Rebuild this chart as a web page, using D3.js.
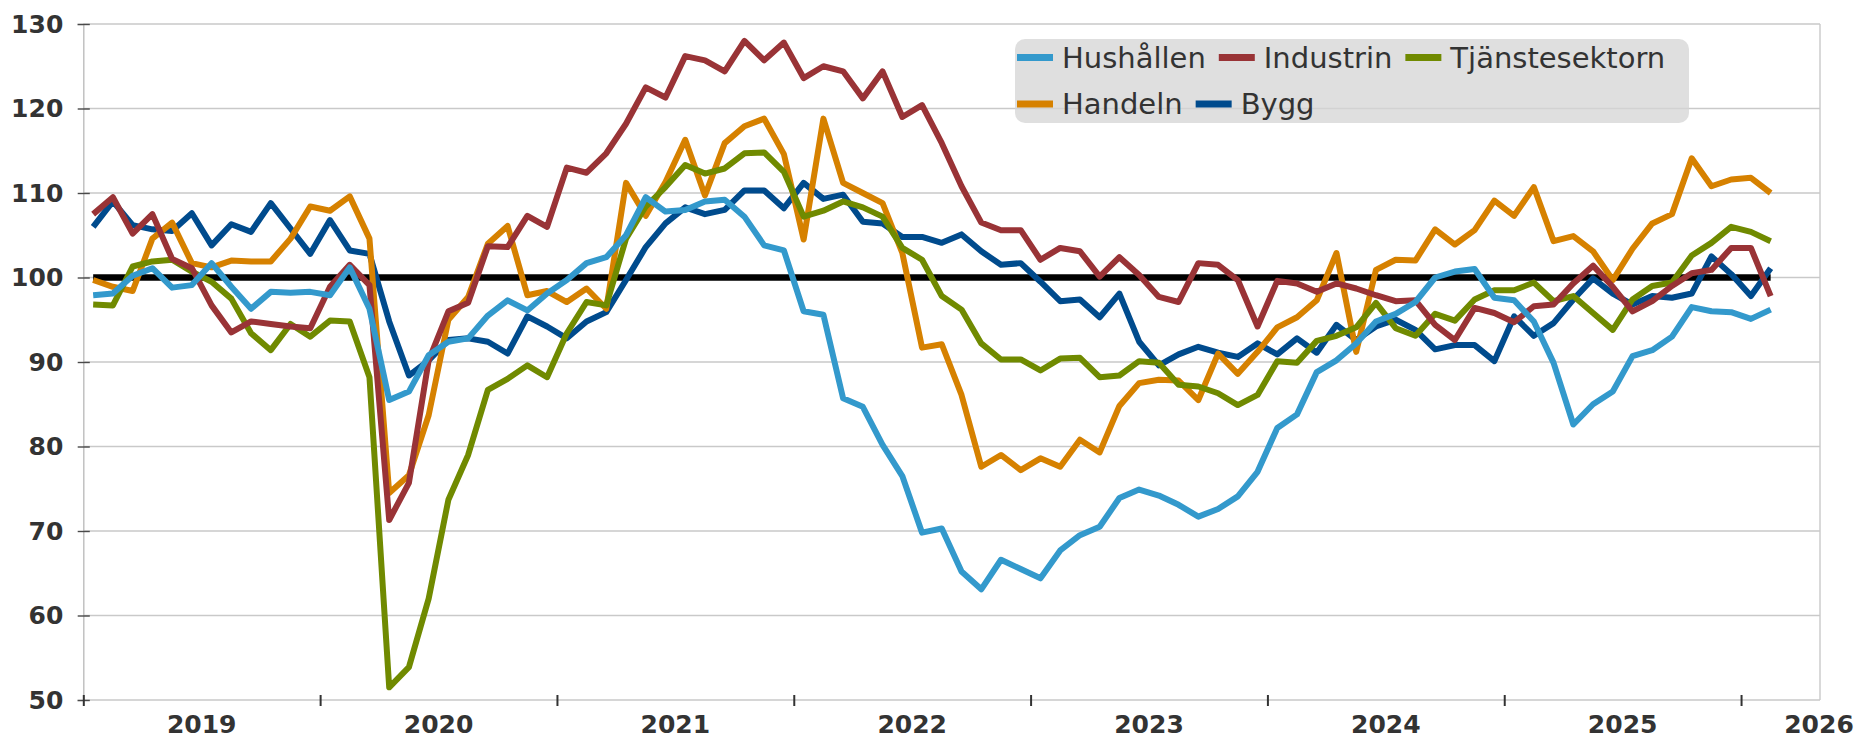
<!DOCTYPE html>
<html lang="sv">
<head>
<meta charset="utf-8">
<title>Konfidensindikatorer per sektor</title>
<script src="https://cdn.jsdelivr.net/npm/d3@7/dist/d3.min.js"></script>
<style>
  html, body { margin: 0; padding: 0; background: #ffffff; }
  svg { display: block; }
</style>
</head>
<body>
<svg id="chart"></svg>
<script>
// Månadsvärden, jan 2019 -> feb 2026 (index 0 = jan 2019)
const hushallen = [
  97.9, 98.1, 100.2, 101.1, 98.8, 99.1, 101.7, 98.9, 96.3, 98.3, 98.2, 98.3,
  97.9, 101.2, 96.3, 85.5, 86.5, 90.8, 92.4, 92.8, 95.5, 97.3, 96.1, 98.1,
  99.7, 101.7, 102.4, 105.0, 109.5, 107.8, 108.0, 109.0, 109.2, 107.2, 103.8, 103.2,
  96.0, 95.6, 85.7, 84.7, 80.2, 76.5, 69.8, 70.3, 65.2, 63.1, 66.6, 65.5,
  64.4, 67.7, 69.5, 70.5, 73.9, 74.9, 74.2, 73.1, 71.7, 72.6, 74.1, 77.0,
  82.2, 83.8, 88.8, 90.2, 92.2, 94.8, 95.7, 97.1, 100.0, 100.7, 101.0, 97.6,
  97.3, 94.8, 89.9, 82.6, 85.0, 86.5, 90.7, 91.4, 93.0, 96.5, 96.0, 95.9,
  95.1, 96.2
];
const industrin = [
  107.5, 109.5, 105.2, 107.5, 102.2, 101.1, 96.7, 93.5, 94.8, 94.5, 94.2, 94.0,
  98.9, 101.5, 99.1, 71.3, 75.7, 90.2, 96.0, 97.0, 103.7, 103.6, 107.3, 106.0,
  113.0, 112.4, 114.7, 118.2, 122.5, 121.3, 126.2, 125.7, 124.4, 128.0, 125.7, 127.8,
  123.6, 125.0, 124.4, 121.2, 124.4, 119.0, 120.4, 115.9, 110.8, 106.5, 105.6, 105.6,
  102.1, 103.5, 103.1, 100.1, 102.4, 100.3, 97.7, 97.1, 101.7, 101.5, 99.7, 94.2,
  99.6, 99.3, 98.3, 99.3, 98.7, 97.9, 97.2, 97.3, 94.4, 92.6, 96.4, 95.8,
  94.7, 96.6, 96.8, 99.3, 101.4, 98.9, 96.0, 97.2, 99.0, 100.5, 100.9, 103.5,
  103.5, 97.8
];
const tjanstesektorn = [
  96.8, 96.7, 101.3, 101.9, 102.1, 100.7, 99.5, 97.5, 93.4, 91.4, 94.5, 93.0,
  94.9, 94.8, 88.2, 51.5, 53.9, 62.0, 73.7, 79.0, 86.7, 88.0, 89.6, 88.2,
  93.4, 97.1, 96.7, 104.6, 108.4, 110.7, 113.3, 112.3, 112.9, 114.7, 114.8, 112.5,
  107.2, 107.9, 109.0, 108.3, 107.2, 103.5, 102.1, 97.8, 96.2, 92.2, 90.3, 90.3,
  89.0, 90.4, 90.5, 88.2, 88.4, 90.1, 89.9, 87.3, 87.1, 86.3, 84.9, 86.1,
  90.1, 89.9, 92.5, 93.1, 94.1, 97.0, 94.0, 93.1, 95.7, 94.9, 97.4, 98.5,
  98.5, 99.4, 97.2, 97.8, 95.8, 93.8, 97.4, 99.0, 99.4, 102.6, 104.1, 106.0,
  105.4, 104.3
];
const handeln = [
  99.7, 98.9, 98.4, 104.6, 106.5, 101.7, 101.2, 102.0, 101.9, 101.9, 104.6, 108.4,
  107.9, 109.6, 104.6, 74.5, 76.6, 83.7, 95.0, 97.7, 104.0, 106.1, 97.9, 98.4,
  97.1, 98.7, 96.3, 111.2, 107.3, 111.3, 116.3, 109.7, 115.9, 117.9, 118.8, 114.6,
  104.5, 118.8, 111.2, 110.0, 108.8, 102.9, 91.7, 92.1, 86.1, 77.6, 79.0, 77.2,
  78.6, 77.6, 80.8, 79.3, 84.8, 87.5, 87.9, 87.8, 85.5, 91.0, 88.6, 91.2,
  94.1, 95.3, 97.3, 102.9, 91.2, 100.9, 102.1, 102.0, 105.7, 103.9, 105.6, 109.1,
  107.3, 110.7, 104.3, 104.9, 103.1, 99.7, 103.4, 106.4, 107.5, 114.1, 110.8, 111.6,
  111.8, 110.0
];
const bygg = [
  106.0, 109.0, 106.2, 105.7, 105.5, 107.6, 103.8, 106.3, 105.4, 108.8, 105.8, 102.8,
  106.8, 103.2, 102.8, 94.8, 88.4, 90.2, 92.6, 92.8, 92.4, 91.0, 95.4, 94.2,
  92.8, 94.8, 95.9, 99.7, 103.6, 106.4, 108.3, 107.5, 108.0, 110.3, 110.3, 108.2,
  111.2, 109.3, 109.8, 106.6, 106.4, 104.8, 104.8, 104.1, 105.1, 103.1, 101.5, 101.7,
  99.5, 97.2, 97.4, 95.3, 98.1, 92.4, 89.6, 90.9, 91.8, 91.1, 90.6, 92.2,
  90.9, 92.8, 91.1, 94.4, 92.6, 94.2, 95.0, 93.8, 91.5, 92.0, 92.0, 90.1,
  95.4, 93.1, 94.6, 97.4, 99.9, 98.1, 96.8, 97.8, 97.6, 98.1, 102.5, 100.4,
  97.8, 101.1
];

const years = [2019, 2020, 2021, 2022, 2023, 2024, 2025, 2026];
const yTicks = [50, 60, 70, 80, 90, 100, 110, 120, 130];
const normal = 100; // svart linje = historiskt genomsnitt

const width = 1860;
const height = 739;
const x1 = 83.3, x2 = 1820;   // plotytan
const yTop = 24, yBottom = 700;
const nbMonths = 88;           // axeln går till april 2026

const fontAxis = "'DejaVu Sans', sans-serif";
const textColor = "#333333";

// Ordningen här = ritordning (Hushållen överst)
const series = [
  { name: "Bygg", color: "#004b8d", values: bygg },
  { name: "Handeln", color: "#d68100", values: handeln },
  { name: "Tjänstesektorn", color: "#708a00", values: tjanstesektorn },
  { name: "Industrin", color: "#993336", values: industrin },
  { name: "Hushållen", color: "#3399cc", values: hushallen }
];
const legendRows = [
  ["Hushållen", "Industrin", "Tjänstesektorn"],
  ["Handeln", "Bygg"]
];

const svg = d3.select("#chart")
  .attr("width", width)
  .attr("height", height);

const x = d3.scaleLinear().domain([0, nbMonths]).range([x1, x2]);
const y = d3.scaleLinear().domain([50, 130]).range([yBottom, yTop]);

// Stödlinjer
svg.append("g")
  .selectAll("line")
  .data(yTicks)
  .join("line")
    .attr("x1", x1)
    .attr("x2", x2)
    .attr("y1", d => y(d))
    .attr("y2", d => y(d))
    .attr("stroke", "#c9c9c9")
    .attr("stroke-width", 1.4);

// Ram till höger
svg.append("line")
  .attr("x1", x2).attr("x2", x2)
  .attr("y1", y(130)).attr("y2", y(50))
  .attr("stroke", "#c9c9c9")
  .attr("stroke-width", 1.4);

// Y-axel
const yAxis = svg.append("g")
  .attr("transform", `translate(${x1},0)`)
  .call(d3.axisLeft(y).tickValues(yTicks).tickSize(6).tickPadding(14));
yAxis.select(".domain").attr("stroke", "#bdbdbd").attr("stroke-width", 1.4);
yAxis.selectAll(".tick line")
  .attr("x1", 6.5)
  .attr("x2", -5.6)
  .attr("stroke", "#4a4a4a")
  .attr("stroke-width", 1.4);
yAxis.selectAll(".tick text")
  .attr("fill", textColor)
  .style("font-family", fontAxis)
  .style("font-weight", "bold")
  .style("font-size", "25px");

// X-axel: streck vid årsskiftena
const xAxis = svg.append("g")
  .attr("transform", `translate(0,${yBottom})`)
  .call(d3.axisBottom(x).tickValues(years.map((d, i) => i * 12)).tickFormat("").tickSize(6));
xAxis.select(".domain").remove();
xAxis.selectAll(".tick line")
  .attr("y1", -5)
  .attr("y2", 6)
  .attr("stroke", "#333333")
  .attr("stroke-width", 2);

// Årsetiketter mitt i varje år (2026 hamnar vid kanten)
svg.append("g")
  .selectAll("text")
  .data(years)
  .join("text")
    .attr("x", (d, i) => Math.min(x(i * 12 + 6), width - 41))
    .attr("y", 733)
    .attr("text-anchor", "middle")
    .attr("fill", textColor)
    .style("font-family", fontAxis)
    .style("font-weight", "bold")
    .style("font-size", "25px")
    .text(d => d);

// Svart referenslinje vid 100
const months = d3.range(hushallen.length);
svg.append("line")
  .attr("x1", x(months[0] + 0.5))
  .attr("x2", x(months[months.length - 1] + 0.5))
  .attr("y1", y(normal))
  .attr("y2", y(normal))
  .attr("stroke", "#000000")
  .attr("stroke-width", 6.5);

// Serierna
const line = d3.line()
  .x((d, i) => x(i + 0.5))
  .y(d => y(d));

svg.append("g")
  .selectAll("path")
  .data(series)
  .join("path")
    .attr("d", d => line(d.values))
    .attr("fill", "none")
    .attr("stroke", d => d.color)
    .attr("stroke-width", 6)
    .attr("stroke-linejoin", "round")
    .attr("stroke-linecap", "butt");

// Legend (grå ruta, flödar i två rader)
const legend = svg.append("g");
legend.append("rect")
  .attr("x", 1015)
  .attr("y", 39)
  .attr("width", 674)
  .attr("height", 84)
  .attr("rx", 10)
  .attr("fill", "#d4d4d4")
  .attr("fill-opacity", 0.75);

const rowY = [57.5, 104];
legendRows.forEach((row, r) => {
  let cx = 1017;
  row.forEach(name => {
    const s = series.find(d => d.name === name);
    legend.append("line")
      .attr("x1", cx).attr("x2", cx + 36)
      .attr("y1", rowY[r]).attr("y2", rowY[r])
      .attr("stroke", s.color)
      .attr("stroke-width", 7);
    const t = legend.append("text")
      .attr("x", cx + 45)
      .attr("y", rowY[r] + 10.3)
      .attr("fill", textColor)
      .style("font-family", "'DejaVu Sans', sans-serif")
      .style("font-size", "29px")
      .text(name);
    cx += 45 + t.node().getComputedTextLength() + 13;
  });
});
</script>
</body>
</html>
